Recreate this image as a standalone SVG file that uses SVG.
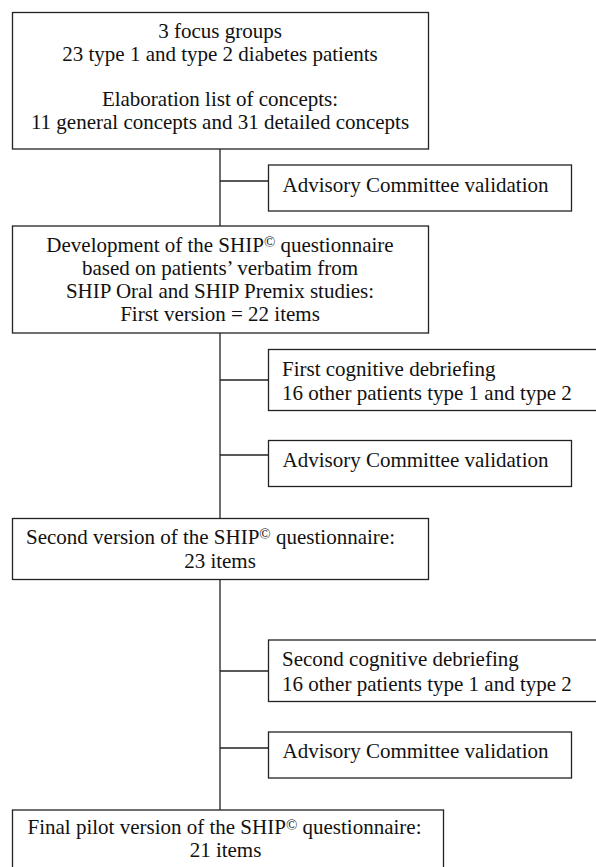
<svg xmlns="http://www.w3.org/2000/svg" width="596" height="867" viewBox="0 0 596 867">
<style>
.box{fill:#fff;stroke:#222;stroke-width:1.3}
.t{font-family:"Liberation Serif","Times New Roman",serif;font-size:21px;fill:#111}
.c{text-anchor:middle}
.sup{font-size:15px}
.line{stroke:#222;stroke-width:1.3;fill:none}
</style>
<rect width="596" height="867" fill="#fff"/>
<g id="connectors">
<path class="line" d="M220 149V226M220 333V518.5M220 579.5V810"/>
<path class="line" d="M220 181H268.5M220 380H268.5M220 455H268.5M220 671H268.5M220 748H268.5"/>
</g>
<g id="n1">
<rect class="box" x="12.5" y="12.5" width="416" height="136.5"/>
<text class="t c" x="220" y="38">3 focus groups</text>
<text class="t c" x="220" y="61">23 type 1 and type 2 diabetes patients</text>
<text class="t c" x="220" y="106">Elaboration list of concepts:</text>
<text class="t c" x="220" y="129">11 general concepts and 31 detailed concepts</text>
</g>
<g id="n2">
<rect class="box" x="268.5" y="165" width="303" height="46"/>
<text class="t" x="282.5" y="192">Advisory Committee validation</text>
</g>
<g id="n3">
<rect class="box" x="12.5" y="226" width="416" height="107"/>
<text class="t c" x="220" y="251.5">Development of the SHIP<tspan class="sup" dy="-4.5">©</tspan><tspan dy="4.5"> questionnaire</tspan></text>
<text class="t c" x="220" y="274.5">based on patients’ verbatim from</text>
<text class="t c" x="220" y="297.5">SHIP Oral and SHIP Premix studies:</text>
<text class="t c" x="220" y="320.5">First version = 22 items</text>
</g>
<g id="n4">
<rect class="box" x="268.5" y="349.5" width="340" height="61"/>
<text class="t" x="282" y="375.5">First cognitive debriefing</text>
<text class="t" x="282" y="400">16 other patients type 1 and type 2</text>
</g>
<g id="n5">
<rect class="box" x="268.5" y="440.5" width="303" height="46"/>
<text class="t" x="282.5" y="467">Advisory Committee validation</text>
</g>
<g id="n6">
<rect class="box" x="12.5" y="518.5" width="416" height="61"/>
<text class="t c" x="210.5" y="543.5">Second version of the SHIP<tspan class="sup" dy="-4.5">©</tspan><tspan dy="4.5"> questionnaire:</tspan></text>
<text class="t c" x="220" y="567.5">23 items</text>
</g>
<g id="n7">
<rect class="box" x="268.5" y="640" width="340" height="61.5"/>
<text class="t" x="282" y="666">Second cognitive debriefing</text>
<text class="t" x="282" y="690.5">16 other patients type 1 and type 2</text>
</g>
<g id="n8">
<rect class="box" x="268.5" y="732" width="303" height="46"/>
<text class="t" x="282.5" y="757.5">Advisory Committee validation</text>
</g>
<g id="n9">
<rect class="box" x="12.5" y="810" width="431" height="70"/>
<text class="t c" x="224.5" y="834">Final pilot version of the SHIP<tspan class="sup" dy="-4.5">©</tspan><tspan dy="4.5"> questionnaire:</tspan></text>
<text class="t c" x="225.5" y="857">21 items</text>
</g>
</svg>
